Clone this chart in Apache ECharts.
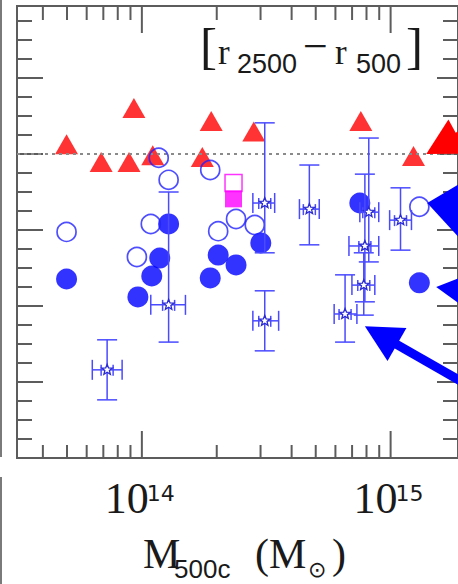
<!DOCTYPE html>
<html><head><meta charset="utf-8">
<script src="https://cdn.jsdelivr.net/npm/echarts@6/dist/echarts.min.js"></script>
<style>html,body{margin:0;padding:0;background:#fff}#c{width:458px;height:584px}</style>
</head><body><div id="c"></div>
<script>
// ---------------- data ----------------
// red triangles
const triMass  = [4.98e13, 9.29e13, 6.86e13, 8.88e13, 1.106e14, 1.90e14, 1.75e14, 2.818e14, 7.59e14, 1.236e15];
const triRatio = [1.026, 1.121, 0.979, 0.979, 0.997, 1.087, 0.992, 1.059, 1.087, 0.995];
// filled blue circles
const fillMass  = [4.98e13, 9.64e13, 1.096e14, 1.18e14, 1.281e14, 1.883e14, 2.027e14, 2.391e14, 3.007e14, 7.52e14, 1.305e15];
const fillRatio = [0.671, 0.624, 0.679, 0.726, 0.816, 0.674, 0.734, 0.708, 0.766, 0.871, 0.661];
// open blue circles
const openMass  = [4.98e13, 9.55e13, 1.086e14, 1.169e14, 1.281e14, 1.883e14, 2.027e14, 2.391e14, 2.844e14, 1.305e15];
const openRatio = [0.795, 0.729, 0.816, 0.990, 0.932, 0.958, 0.797, 0.829, 0.813, 0.861];
// magenta squares
const sqOpenMass = [2.336e14];
const sqOpenRatio = [0.924];
const sqFillMass = [2.336e14];
const sqFillRatio = [0.882];
// stars with error bars
const starMass    = [7.25e13, 1.281e14, 3.119e14, 3.119e14, 4.713e14, 8.17e14, 7.88e14, 7.80e14, 6.56e14, 1.096e15];
const starRatio   = [0.432, 0.603, 0.561, 0.871, 0.855, 0.847, 0.758, 0.655, 0.579, 0.826];
const starMassLo  = [6.32e13, 1.086e14, 2.794e14, 2.794e14, 4.30e14, 7.52e14, 6.80e14, 6.99e14, 5.93e14, 9.91e14];
const starMassHi  = [8.33e13, 1.497e14, 3.547e14, 3.419e14, 5.165e14, 8.96e14, 8.96e14, 8.64e14, 7.32e14, 1.213e15];
const starRatioLo = [0.353, 0.505, 0.482, 0.740, 0.761, 0.716, 0.611, 0.576, 0.505, 0.747];
const starRatioHi = [0.511, 0.900, 0.640, 1.082, 0.971, 1.042, 0.947, 0.740, 0.682, 0.911];
// annotation arrows (tip and tail, in data units)
const arrowTipMass   = [1.391e15, 1.404e15, 1.525e15, 7.88e14];
const arrowTipRatio  = [1.000, 0.871, 0.650, 0.547];
const arrowTailMass  = [3.116e15, 3.48e15, 3.78e15, 2.606e15];
const arrowTailRatio = [1.126, 0.833, 0.617, 0.352];
// reference line
const refRatio = 1.0;
// axis ticks
const xMajorTicks = [1e14, 1e15];
const xMajorExp   = ['14', '15'];
const xMinorTicks = [4e13, 5e13, 6e13, 7e13, 8e13, 9e13, 2e14, 3e14, 4e14, 5e14, 6e14, 7e14, 8e14, 9e14];
const yMajorTicks = [0.4, 0.6, 0.8, 1.0, 1.2];
const yMinorTicks = [0.25, 0.3, 0.35, 0.45, 0.5, 0.55, 0.65, 0.7, 0.75, 0.85, 0.9, 0.95, 1.05, 1.1, 1.15, 1.25, 1.3, 1.35];
const xMin = 3.148e13, xMax = 1.866e15, yMin = 0.2, yMax = 1.3895;

// ---------------- styles ----------------
const AX = '#5c5c5c';
const TXT = '#1a1a1a';
const ERR = '#4a4aff';
const arrowColor = ['#ff0000', '#0000ff', '#0000ff', '#0000ff'];
const arrowHeadLen = [36, 42, 36, 37];
const arrowHeadHalf = [19.5, 34, 19.5, 19];
const arrowShaft = [9, 9, 9, 9];

const zip = (a, b) => a.map((v, i) => [v, b[i]]);

const chart = echarts.init(document.getElementById('c'), null, {renderer: 'svg'});

function line(x1, y1, x2, y2, st) {
  return {type: 'line', shape: {x1, y1, x2, y2}, style: st};
}
function txt(text, x, y, font, align) {
  return {type: 'text', style: {text, x, y, font, fill: TXT, textAlign: align || 'left', align: align || 'left', textVerticalAlign: 'middle', verticalAlign: 'middle'}};
}

const option = {
  animation: false,
  grid: {left: 17, top: 6, width: 445, height: 452, show: true, borderColor: AX, borderWidth: 2, backgroundColor: 'transparent'},
  xAxis: {type: 'log', logBase: 10, min: xMin, max: xMax, axisLine: {show: false}, axisTick: {show: false}, axisLabel: {show: false}, splitLine: {show: false}},
  yAxis: {type: 'value', min: yMin, max: yMax, axisLine: {show: false}, axisTick: {show: false}, axisLabel: {show: false}, splitLine: {show: false}},
  graphic: [
    {type: 'line', shape: {x1: 1, y1: 0, x2: 1, y2: 457}, style: {stroke: '#7a7a7a', lineWidth: 2}},
    {type: 'line', shape: {x1: 1, y1: 477, x2: 1, y2: 584}, style: {stroke: '#7a7a7a', lineWidth: 2}},
    // panel label [r_2500 - r_500]
    txt('[', 200, 46, '51px "Liberation Serif"'),
    txt('r', 218, 52, '35px "Liberation Serif"'),
    txt('2500', 237, 64, '27px "Liberation Sans"'),
    txt('\u2212', 303, 46, '44px "Liberation Serif"'),
    txt('r', 335, 52, '35px "Liberation Serif"'),
    txt('500', 356, 64, '27px "Liberation Sans"'),
    txt(']', 406, 46, '51px "Liberation Serif"'),
    // axis title M_500c (M_sun)
    txt('M', 143, 554, '42px "Liberation Serif"'),
    txt('500c', 174, 569, '26px "Liberation Sans"'),
    txt('(M', 255, 554, '42px "Liberation Serif"'),
    txt('\u2299', 308, 569, '22px "DejaVu Sans"'),
    txt(')', 332, 554, '42px "Liberation Serif"')
  ],
  series: [
    { // axis ticks and tick labels, through the axis scales
      type: 'custom', z: 1, silent: true,
      data: [[xMin, yMin]],
      markLine: {silent: true, symbol: 'none', label: {show: false},
        lineStyle: {color: '#8a8a8a', width: 2, type: [3, 4]},
        data: [{yAxis: refRatio}]},
      renderItem: (params, api) => {
        const cs = params.coordSys;
        const L = cs.x, T = cs.y, R = cs.x + cs.width, B = cs.y + cs.height;
        const st = {stroke: AX, lineWidth: 2};
        const ch = [];
        xMinorTicks.forEach(m => { const x = api.coord([m, yMin])[0]; ch.push(line(x, B, x, B - 13, st), line(x, T, x, T + 14, st)); });
        xMajorTicks.forEach((m, i) => {
          const x = api.coord([m, yMin])[0];
          ch.push(line(x, B, x, B - 27, st), line(x, T, x, T + 27, st));
          ch.push(txt('10', x - 37, B + 40, '44px "Liberation Serif"'));
          ch.push(txt(xMajorExp[i], x + 5, B + 35, '22px "DejaVu Sans"'));
        });
        yMinorTicks.forEach(v => { const y = api.coord([xMin, v])[1]; ch.push(line(L, y, L + 15, y, st), line(R, y, R - 15, y, st)); });
        yMajorTicks.forEach(v => { const y = api.coord([xMin, v])[1]; ch.push(line(L, y, L + 26, y, st), line(R, y, R - 21, y, st)); });
        return {type: 'group', children: ch};
      }
    },
    {type: 'scatter', z: 3, silent: true, data: zip(triMass, triRatio), symbol: 'triangle', symbolSize: [23, 20], itemStyle: {color: '#ff0000'}},
    {type: 'scatter', z: 4, silent: true, data: zip(fillMass, fillRatio), symbol: 'circle', symbolSize: 21, itemStyle: {color: '#0000ff'}},
    {type: 'scatter', z: 5, silent: true, data: zip(openMass, openRatio), symbol: 'circle', symbolSize: 19, itemStyle: {color: 'rgba(0,0,0,0)', borderColor: '#2222ff', borderWidth: 1.7}},
    {type: 'scatter', z: 5, silent: true, data: zip(sqOpenMass, sqOpenRatio), symbol: 'rect', symbolSize: 17, itemStyle: {color: 'rgba(0,0,0,0)', borderColor: '#ff00ff', borderWidth: 1.5}},
    {type: 'scatter', z: 5, silent: true, data: zip(sqFillMass, sqFillRatio), symbol: 'rect', symbolSize: 17, itemStyle: {color: '#ff00ff'}},
    { // stars with error bars
      type: 'custom', z: 6, silent: true,
      encode: {x: [0, 2, 3], y: [1, 4, 5]},
      data: starMass.map((m, i) => [m, starRatio[i], starMassLo[i], starMassHi[i], starRatioLo[i], starRatioHi[i]]),
      renderItem: (params, api) => {
        const c = api.coord([api.value(0), api.value(1)]);
        const pl = api.coord([api.value(2), api.value(1)]);
        const ph = api.coord([api.value(3), api.value(1)]);
        const pb = api.coord([api.value(0), api.value(4)]);
        const pt = api.coord([api.value(0), api.value(5)]);
        const st = {stroke: ERR, lineWidth: 1.5};
        const cap = 10, ic = 6;
        const pts = [];
        for (let k = 0; k < 10; k++) {
          const a = -Math.PI / 2 + k * Math.PI / 5, r = k % 2 ? 2.4 : 5.5;
          pts.push([c[0] + r * Math.cos(a), c[1] + r * Math.sin(a)]);
        }
        return {type: 'group', children: [
          line(pl[0], c[1], ph[0], c[1], st),
          line(c[0], pt[1], c[0], pb[1], st),
          line(c[0] - cap, pt[1], c[0] + cap, pt[1], st),
          line(c[0] - cap, pb[1], c[0] + cap, pb[1], st),
          line(pl[0], c[1] - cap, pl[0], c[1] + cap, st),
          line(ph[0], c[1] - cap, ph[0], c[1] + cap, st),
          line(c[0] - ic, c[1] - 5, c[0] - ic, c[1] + 6, st),
          line(c[0] + ic, c[1] - 5, c[0] + ic, c[1] + 6, st),
          {type: 'polygon', shape: {points: pts}, style: {fill: '#ffffff', stroke: '#2a2ad0', lineWidth: 1.3}}
        ]};
      }
    },
    { // annotation arrows
      type: 'custom', z: 7, silent: true,
      encode: {x: [0, 2], y: [1, 3]},
      data: arrowTipMass.map((m, i) => [m, arrowTipRatio[i], arrowTailMass[i], arrowTailRatio[i]]),
      renderItem: (params, api) => {
        const i = params.dataIndex;
        const tip = api.coord([api.value(0), api.value(1)]);
        const tail = api.coord([api.value(2), api.value(3)]);
        let dx = tail[0] - tip[0], dy = tail[1] - tip[1];
        const len = Math.hypot(dx, dy); dx /= len; dy /= len;
        const px = -dy, py = dx;
        const hl = arrowHeadLen[i], hh = arrowHeadHalf[i], sw = arrowShaft[i] / 2;
        const bx = tip[0] + dx * hl, by = tip[1] + dy * hl;
        const col = arrowColor[i];
        return {type: 'group', children: [
          {type: 'polygon', shape: {points: [[bx - dx * 2 + px * sw, by - dy * 2 + py * sw], [tail[0] + px * sw, tail[1] + py * sw], [tail[0] - px * sw, tail[1] - py * sw], [bx - dx * 2 - px * sw, by - dy * 2 - py * sw]]}, style: {fill: col}},
          {type: 'polygon', shape: {points: [tip, [bx + px * hh, by + py * hh], [bx - px * hh, by - py * hh]]}, style: {fill: col}}
        ]};
      }
    }
  ]
};
chart.setOption(option);
</script>
</body></html>
